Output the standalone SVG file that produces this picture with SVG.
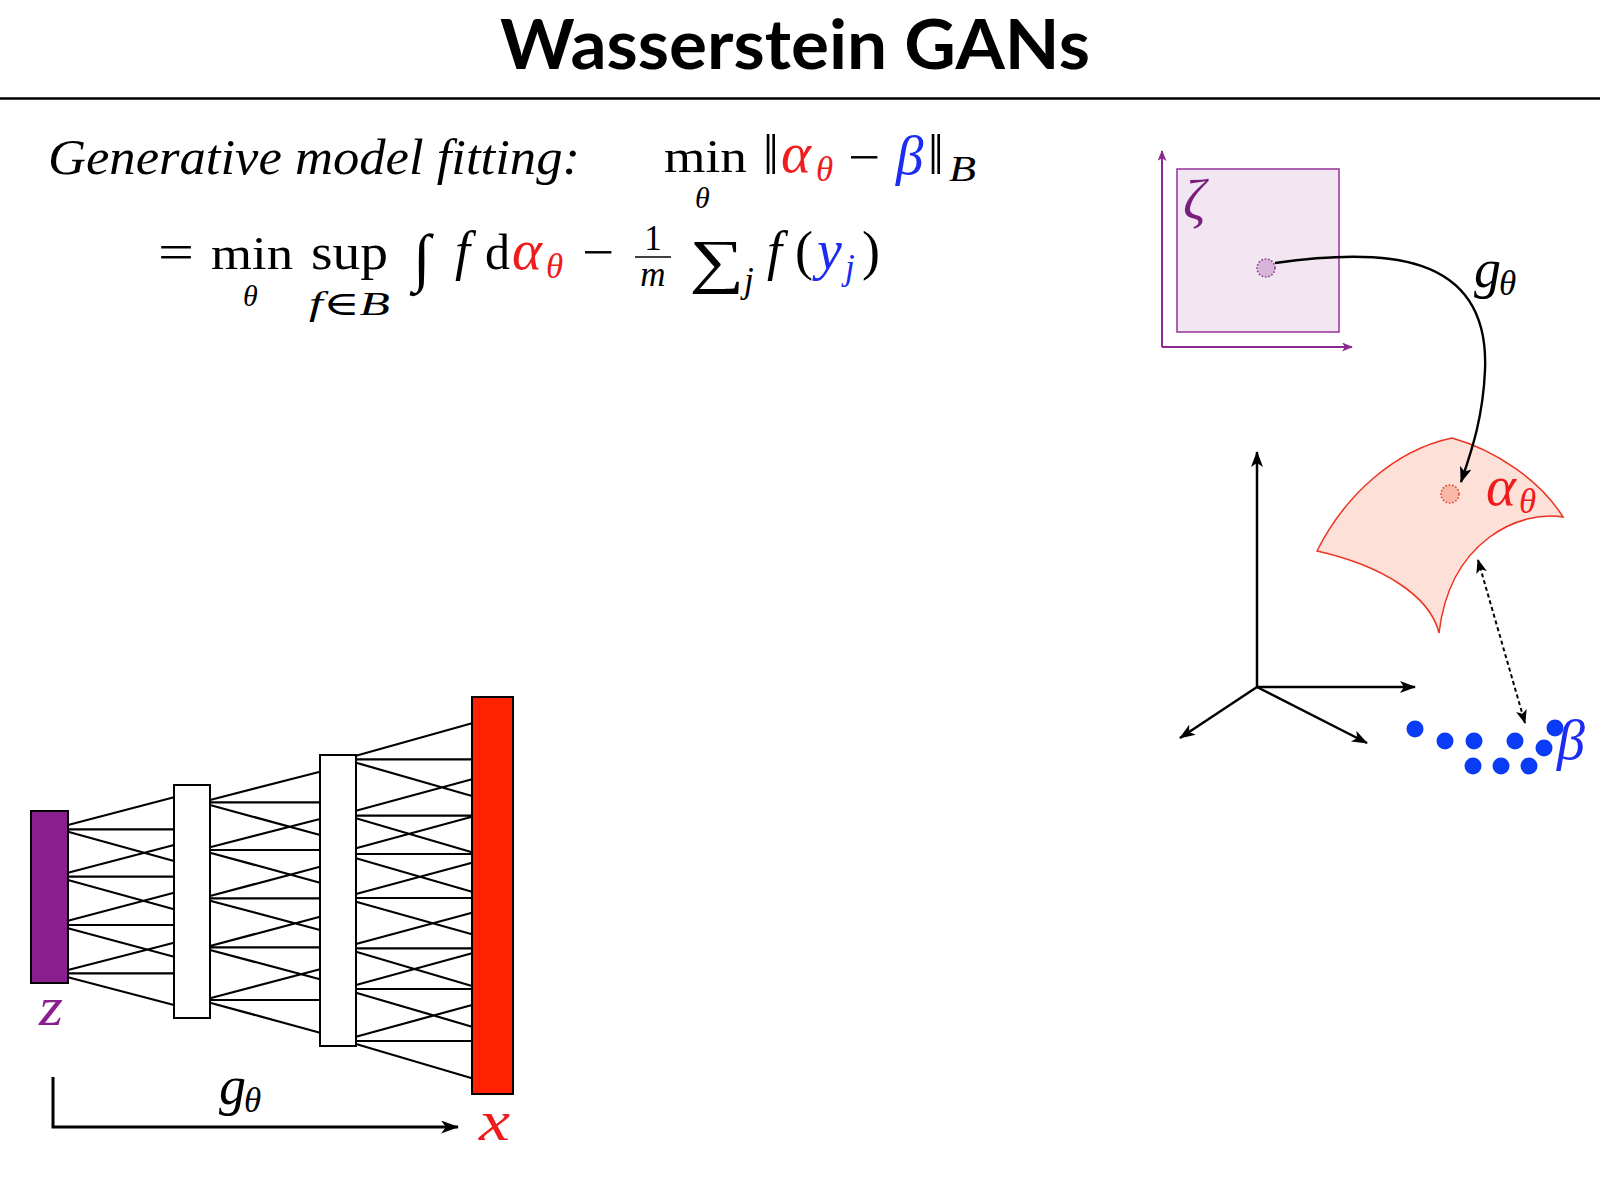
<svg xmlns="http://www.w3.org/2000/svg" width="1600" height="1200" viewBox="0 0 1600 1200">
<style>
.rm{font-family:"Liberation Serif","DejaVu Serif",serif;font-size:50px;fill:#000}
.it{font-family:"Liberation Serif","DejaVu Serif",serif;font-style:italic;font-size:50px;fill:#000}
.sub{font-size:35px}
.gr{font-size:57px}
.red{fill:#ee1c1c}
.blue{fill:#1c2cf0}
.net{stroke:#000;stroke-width:2.2;fill:none}
.ax{stroke:#000;stroke-width:2.5;fill:none}
</style>
<defs>
<marker id="stealth" viewBox="0 0 16 12" refX="15" refY="6" markerWidth="16" markerHeight="12" markerUnits="userSpaceOnUse" orient="auto">
<path d="M0,0 L16,6 L0,12 L4,6 z" fill="#000"/>
</marker>
<marker id="stealthL" viewBox="0 0 18 13" refX="17" refY="6.5" markerWidth="18" markerHeight="13" markerUnits="userSpaceOnUse" orient="auto">
<path d="M0,0 L18,6.5 L0,13 L5,6.5 z" fill="#000"/>
</marker>
<marker id="stealthS" viewBox="0 0 14 11" refX="13" refY="5.5" markerWidth="14" markerHeight="11" markerUnits="userSpaceOnUse" orient="auto-start-reverse">
<path d="M0,0 L14,5.5 L0,11 L3.5,5.5 z" fill="#000"/>
</marker>
<marker id="purp" viewBox="0 0 12 10" refX="11" refY="5" markerWidth="12" markerHeight="9" markerUnits="userSpaceOnUse" orient="auto">
<path d="M0,0 L12,5 L0,10 L3,5 z" fill="#8a2a8e"/>
</marker>
</defs>

<rect width="1600" height="1200" fill="#fff"/>

<g id="title">
<text x="795" y="69" text-anchor="middle" textLength="590" lengthAdjust="spacingAndGlyphs" style="font-family:Lato,'Open Sans',sans-serif;font-weight:bold;font-size:68px">Wasserstein GANs</text>
<line x1="0" y1="98.5" x2="1600" y2="98.5" stroke="#000" stroke-width="2.5"/>
</g>

<g id="formula1">
<text class="it" x="48" y="174" textLength="532" lengthAdjust="spacingAndGlyphs">Generative model fitting:</text>
<text class="rm" x="664" y="172" textLength="83" lengthAdjust="spacingAndGlyphs" style="font-size:47px">min</text>
<text class="it" x="695" y="208" style="font-size:30px">θ</text>
<text class="rm" x="763" y="174" style="font-size:56px">‖</text>
<text class="it red gr" x="781" y="172">α</text>
<text class="it red sub" x="816" y="181">θ</text>
<text class="rm" x="848" y="174" textLength="32" lengthAdjust="spacingAndGlyphs">−</text>
<text class="it blue" x="896" y="174" style="font-size:55px">β</text>
<text class="rm" x="928" y="174" style="font-size:56px">‖</text>
<text class="it sub" x="949" y="181" textLength="27" lengthAdjust="spacingAndGlyphs">B</text>
</g>

<g id="formula2">
<text class="rm" x="158" y="269" textLength="36" lengthAdjust="spacingAndGlyphs">=</text>
<text class="rm" x="211" y="269" textLength="82" lengthAdjust="spacingAndGlyphs" style="font-size:47px">min</text>
<text class="it" x="243" y="306" style="font-size:30px">θ</text>
<text class="rm" x="311" y="269" textLength="77" lengthAdjust="spacingAndGlyphs">sup</text>
<text class="it" x="309" y="315" textLength="81" lengthAdjust="spacingAndGlyphs" style="font-size:34px">f<tspan style="font-style:normal">∈</tspan>B</text>
<text class="rm" x="413" y="279" style="font-size:64px">∫</text>
<text class="it" x="455" y="269" style="font-size:54px">f</text>
<text class="rm" x="485" y="269">d</text>
<text class="it red gr" x="512" y="269">α</text>
<text class="it red sub" x="546" y="278">θ</text>
<text class="rm" x="582" y="269" textLength="32" lengthAdjust="spacingAndGlyphs">−</text>
<text class="rm sub" x="653" y="250" text-anchor="middle">1</text>
<line x1="635" y1="257" x2="671" y2="257" stroke="#000" stroke-width="1.6"/>
<text class="it sub" x="653" y="286" text-anchor="middle">m</text>
<text class="rm" x="689" y="281" textLength="55" lengthAdjust="spacingAndGlyphs" style="font-size:60px">∑</text>
<text class="it sub" x="744" y="292">j</text>
<text class="it" x="767" y="269" style="font-size:54px">f</text>
<text class="rm" x="795" y="269" style="font-size:54px">(</text>
<text class="it blue" x="817" y="269" style="font-size:56px">y</text>
<text class="it blue sub" x="845" y="279">j</text>
<text class="rm" x="862" y="269" style="font-size:54px">)</text>
</g>

<g id="latent-space">
<line x1="1162" y1="347" x2="1162" y2="151" stroke="#8a2a8e" stroke-width="2" marker-end="url(#purp)"/>
<line x1="1162" y1="347" x2="1352" y2="347" stroke="#8a2a8e" stroke-width="2" marker-end="url(#purp)"/>
<rect x="1177" y="169" width="162" height="163" fill="#f2e6f3" stroke="#9b3ea0" stroke-width="1.6"/>
<text class="it" x="1183" y="219" style="fill:#7a1e7e;font-size:56px">ζ</text>
<circle cx="1266" cy="268" r="9" fill="#d8b4da" stroke="#8e3a92" stroke-width="1.6" stroke-dasharray="1.6 1.8"/>
</g>

<g id="data-space">
<line class="ax" x1="1257" y1="687" x2="1257" y2="452" marker-end="url(#stealth)"/>
<line class="ax" x1="1257" y1="687" x2="1415" y2="687" marker-end="url(#stealth)"/>
<line class="ax" x1="1257" y1="687" x2="1180" y2="738" marker-end="url(#stealth)"/>
<line class="ax" x1="1257" y1="687" x2="1367" y2="743" marker-end="url(#stealth)"/>
</g>

<g id="alpha-manifold">
<path d="M1317,551 C1345,495 1395,450 1452,438 C1495,450 1540,480 1563,517 C1520,510 1450,540 1439,633 C1430,595 1380,565 1317,551 Z" fill="#fde1d9" stroke="#ee3322" stroke-width="1.5"/>
<circle cx="1450" cy="494" r="9" fill="#f9b9a9" stroke="#e8402a" stroke-width="1.6" stroke-dasharray="1.6 1.8"/>
<text class="it red gr" x="1486" y="505">α</text>
<text class="it red sub" x="1519" y="513">θ</text>
</g>

<g id="beta-samples" fill="#0b3cf5">
<circle cx="1415" cy="729" r="8.5"/>
<circle cx="1445" cy="741" r="8.5"/>
<circle cx="1474" cy="741" r="8.5"/>
<circle cx="1515" cy="741" r="8.5"/>
<circle cx="1555" cy="728" r="8.5"/>
<circle cx="1544" cy="748" r="8.5"/>
<circle cx="1473" cy="766" r="8.5"/>
<circle cx="1501" cy="766" r="8.5"/>
<circle cx="1529" cy="766" r="8.5"/>
<text class="it blue" x="1557" y="759" style="font-size:56px">β</text>
</g>

<g id="network-connectors">
<path class="net" d="M68,825 L174,797.3 M68,829.3 L174,829.3 M68,831.7 L174,861
M68,872.7 L174,845 M68,876.7 L174,876.7 M68,880 L174,909.3
M68,920.7 L174,892.7 M68,925 L174,925 M68,928.3 L174,956.7
M68,970 L174,942.7 M68,973.3 L174,973.3 M68,977.3 L174,1005"/>
<path class="net" d="M210,800 L320,771.7 M210,802.3 L320,802.3 M210,805 L320,835
M210,847.3 L320,819 M210,850 L320,850 M210,852.7 L320,882.7
M210,896 L320,866.7 M210,898.3 L320,898.3 M210,900.7 L320,930
M210,946 L320,916.7 M210,947.3 L320,947.3 M210,950 L320,979.3
M210,998.3 L320,969.3 M210,1000 L320,1000 M210,1002.7 L320,1032.7"/>
<path class="net" d="M356,755.7 L472,723.3 M356,759.3 L472,759.3 M356,762.7 L472,796
M356,810.7 L472,779.3 M356,815.7 L472,815.7 M356,818.3 L472,852.3
M356,848.3 L472,816.7 M356,854 L472,854 M356,858.3 L472,891.7
M356,894 L472,862.7 M356,898 L472,898 M356,901.7 L472,934.3
M356,944 L472,912.7 M356,948.3 L472,948.3 M356,951.7 L472,986
M356,985 L472,953.3 M356,989 L472,989 M356,992.7 L472,1026.7
M356,1036.7 L472,1005 M356,1041 L472,1041 M356,1044 L472,1078.3"/>
</g>

<g id="node-z">
<rect x="31" y="811" width="37" height="172" fill="#8b1e8e" stroke="#000" stroke-width="2"/>
<text class="it" x="39" y="1025" textLength="24" lengthAdjust="spacingAndGlyphs" style="fill:#8b1e8e;font-size:54px">z</text>
</g>
<g id="node-layer1">
<rect x="174" y="785" width="36" height="233" fill="#fff" stroke="#000" stroke-width="2"/>
</g>
<g id="node-layer2">
<rect x="320" y="755" width="36" height="291" fill="#fff" stroke="#000" stroke-width="2"/>
</g>
<g id="node-x">
<rect x="472" y="697" width="41" height="397" fill="#ff2200" stroke="#000" stroke-width="2"/>
<text class="it" x="479" y="1140" textLength="31" lengthAdjust="spacingAndGlyphs" style="fill:#ee1c1c;font-size:56px">x</text>
</g>

<g id="connectors">
<path d="M1275,263 C1380,248 1490,250 1485,370 C1483,420 1470,455 1461,482" fill="none" stroke="#000" stroke-width="2.4" marker-end="url(#stealth)"/>
<line x1="1478" y1="560" x2="1525" y2="723" stroke="#000" stroke-width="2" stroke-dasharray="4 3" marker-start="url(#stealthS)" marker-end="url(#stealthS)"/>
<path d="M53,1077 V1127 H458" fill="none" stroke="#000" stroke-width="3" marker-end="url(#stealthL)"/>
</g>

<g id="labels-g">
<text class="it" x="1474" y="287" style="font-size:54px">g</text>
<text class="it sub" x="1499" y="295">θ</text>
<text class="it" x="219" y="1104" style="font-size:54px">g</text>
<text class="it sub" x="244" y="1112">θ</text>
</g>
</svg>
